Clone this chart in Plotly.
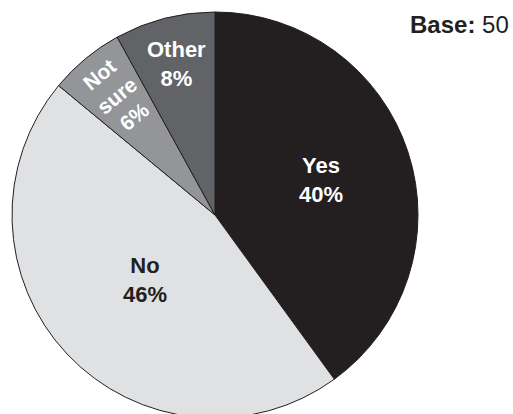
import math
import plotly.graph_objects as go

categories = ["Yes", "No", "Not sure", "Other"]
values = [40, 46, 6, 8]
label_text = ["Yes<br>40%", "No<br>46%", "Not<br>sure<br>6%", "Other<br>8%"]
base_n = 50

colors = ["#231f20", "#e0e1e3", "#939598", "#626366"]
text_colors = ["#ffffff", "#231f20", "#ffffff", "#ffffff"]
label_radius = [0.55, 0.47, 0.76, 0.77]      # fraction of pie radius (style)
label_tangential = [False, False, True, False]
label_sizes = [22, 22, 21, 22]

W, H = 513, 418
cx, cy, R = 215, 215, 203

fig = go.Figure(go.Pie(
    labels=categories,
    values=values,
    textinfo="none",
    sort=False,
    direction="clockwise",
    rotation=0,
    marker=dict(colors=colors, line=dict(color="#231f20", width=1)),
    hoverinfo="label+percent",
    domain=dict(x=[(cx - R) / W, (cx + R) / W],
                y=[(H - cy - R) / H, (H - cy + R) / H]),
    showlegend=False,
))

total = sum(values)
cum = 0
for txt, v, tc, rf, tang, fs in zip(label_text, values, text_colors, label_radius,
                                    label_tangential, label_sizes):
    mid = 2 * math.pi * (cum + v / 2) / total   # clockwise from 12 o'clock
    cum += v
    px = cx + rf * R * math.sin(mid)
    py = cy - rf * R * math.cos(mid)
    angle = 0
    if tang:
        # tangent direction in screen coords (y down)
        angle = math.degrees(math.atan2(math.sin(mid), math.cos(mid)))
        if angle > 90:
            angle -= 180
        if angle < -90:
            angle += 180
    fig.add_annotation(
        x=px / W, y=(H - py) / H, xref="paper", yref="paper",
        xanchor="center", yanchor="middle", showarrow=False,
        text=f"<b>{txt}</b>", textangle=angle,
        font=dict(family="Liberation Sans", size=fs, color=tc),
    )

fig.add_annotation(
    x=1, y=1, xref="paper", yref="paper", xanchor="right", yanchor="top",
    xshift=-2, yshift=-9,
    text=f"<b>Base:</b> {base_n}", showarrow=False,
    font=dict(family="Liberation Sans", size=24, color="#231f20"),
)

fig.update_layout(
    width=W, height=H,
    margin=dict(l=0, r=0, t=0, b=0),
    paper_bgcolor="#ffffff",
    plot_bgcolor="#ffffff",
)

fig.write_html("out.html", config={"displayModeBar": False},
               post_script="document.body.style.overflow='hidden';document.body.style.margin='0';")
